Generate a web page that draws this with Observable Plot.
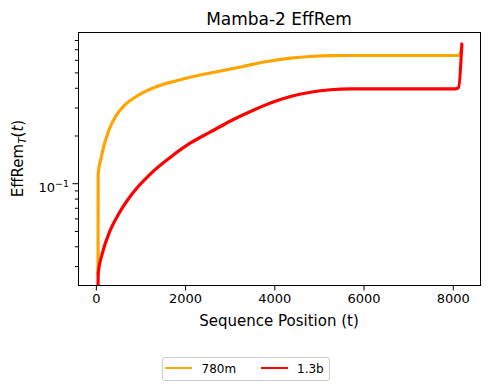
<!DOCTYPE html>
<html><head><meta charset="utf-8">
<script src="https://cdn.jsdelivr.net/npm/d3@7"></script>
<script src="https://cdn.jsdelivr.net/npm/@observablehq/plot@0.6"></script>
<style>
body{margin:0;background:#fff;font-family:"DejaVu Sans",sans-serif;}
#wrap{position:relative;width:489px;height:390px;background:#fff;}
#wrap svg{position:absolute;left:0;top:0;}
#legend{position:absolute;left:162px;top:357px;width:168px;height:24px;box-sizing:border-box;border:1px solid #cccccc;border-radius:3px;background:#fff;font-size:12px;color:#000;}
#legend .ln{position:absolute;height:2px;top:9px;width:27px;}
#legend .lb{position:absolute;top:0;line-height:22px;}
</style></head><body>
<div id="wrap"><div id="legend"></div></div>
<script>
// ---- data ----
const seriesNames = ["780m", "1.3b"];
const seriesColors = ["#FFA500", "#FF0000"];

const t780 = [38, 41, 104, 160, 279, 429, 653, 951, 1326, 1774, 2222, 2670, 3230, 3829, 4350, 4799, 5322, 5920, 8116, 8192];
const v780 = [0.027, 0.1155, 0.1442, 0.1693, 0.2166, 0.2655, 0.3160, 0.3628, 0.4074, 0.4446, 0.4781, 0.5068, 0.5448, 0.5902, 0.6191, 0.6345, 0.6420, 0.6438, 0.6438, 0.712];

const t13 = [38, 41, 131, 279, 503, 803, 1214, 1662, 2110, 2558, 3006, 3455, 3903, 4351, 4799, 5247, 5695, 8040, 8120, 8192];
const v13 = [0.0225, 0.0270, 0.0361, 0.0483, 0.0646, 0.0864, 0.1155, 0.1470, 0.1807, 0.2120, 0.2487, 0.2855, 0.3229, 0.3549, 0.3773, 0.3913, 0.3965, 0.3968, 0.405, 0.761];

const xTicks = [0, 2000, 4000, 6000, 8000];
const yMajorTicks = [0.1];
const yMinorTicks = [0.03, 0.04, 0.05, 0.06, 0.07, 0.08, 0.09, 0.2, 0.3, 0.4, 0.5, 0.6, 0.7, 0.8];

const titleText = "Mamba-2 EffRem";
const xLabelText = "Sequence Position (t)";

// ---- table ----
const rows = [
  ...t780.map((t, i) => ({t, v: v780[i], s: seriesNames[0]})),
  ...t13.map((t, i) => ({t, v: v13[i], s: seriesNames[1]}))
];

const plot = Plot.plot({
  width: 489, height: 350,
  marginLeft: 78, marginRight: 9, marginTop: 32, marginBottom: 65,
  style: {fontFamily: "DejaVu Sans", fontSize: "13px", background: "transparent", color: "black"},
  x: {domain: [-400, 8610]},
  y: {type: "log", domain: [0.0228, 0.899]},
  color: {domain: seriesNames, range: seriesColors},
  marks: [
    Plot.line(rows, {x: "t", y: "v", z: "s", stroke: "s", strokeWidth: 3.2, strokeLinejoin: "round", curve: "monotone-x", clip: true}),
    Plot.frame({stroke: "black", strokeWidth: 1}),
    Plot.axisX({ticks: xTicks, tickSize: 5.5, tickPadding: 3, tickFormat: d => String(d), label: null, fontSize: 13}),
    Plot.axisY({ticks: yMajorTicks, tickSize: 5.5, tickPadding: 4, tickFormat: () => "10", label: null, fontSize: 13}),
    Plot.axisY({ticks: yMinorTicks, tickSize: 3.2, tickFormat: () => "", label: null})
  ]
});

const svg = d3.select(plot);
svg.selectAll("text").filter(function() { return this.textContent === "10"; })
  .attr("dy", "0.32em")
  .append("tspan").attr("dy", "-0.55em").attr("font-size", "9.5px").text("\u22121");

svg.append("text").attr("x", 279).attr("y", 24.5).attr("text-anchor", "middle")
  .attr("font-size", "17px").attr("fill", "black").text(titleText);

svg.append("text").attr("x", 279).attr("y", 326).attr("text-anchor", "middle")
  .attr("font-size", "15px").attr("fill", "black").text(xLabelText);

const yl = svg.append("text").attr("transform", "translate(18,158.5) rotate(-90)")
  .attr("text-anchor", "middle").attr("dy", "0.35em").attr("font-size", "15px").attr("fill", "black");
yl.append("tspan").text("EffRem");
yl.append("tspan").attr("font-size", "10.5px").attr("font-style", "italic").attr("dy", "3").text("T");
yl.append("tspan").attr("dy", "-3").text("(");
yl.append("tspan").attr("font-style", "italic").text("t");
yl.append("tspan").text(")");

document.getElementById("wrap").appendChild(plot);

// ---- legend ----
const lg = d3.select("#legend");
const lx = [2, 98], tx = [38.5, 134];
seriesNames.forEach((n, i) => {
  lg.append("div").attr("class", "ln").style("left", lx[i] + "px").style("background", seriesColors[i]);
  lg.append("div").attr("class", "lb").style("left", tx[i] + "px").text(n);
});
</script>
</body></html>
